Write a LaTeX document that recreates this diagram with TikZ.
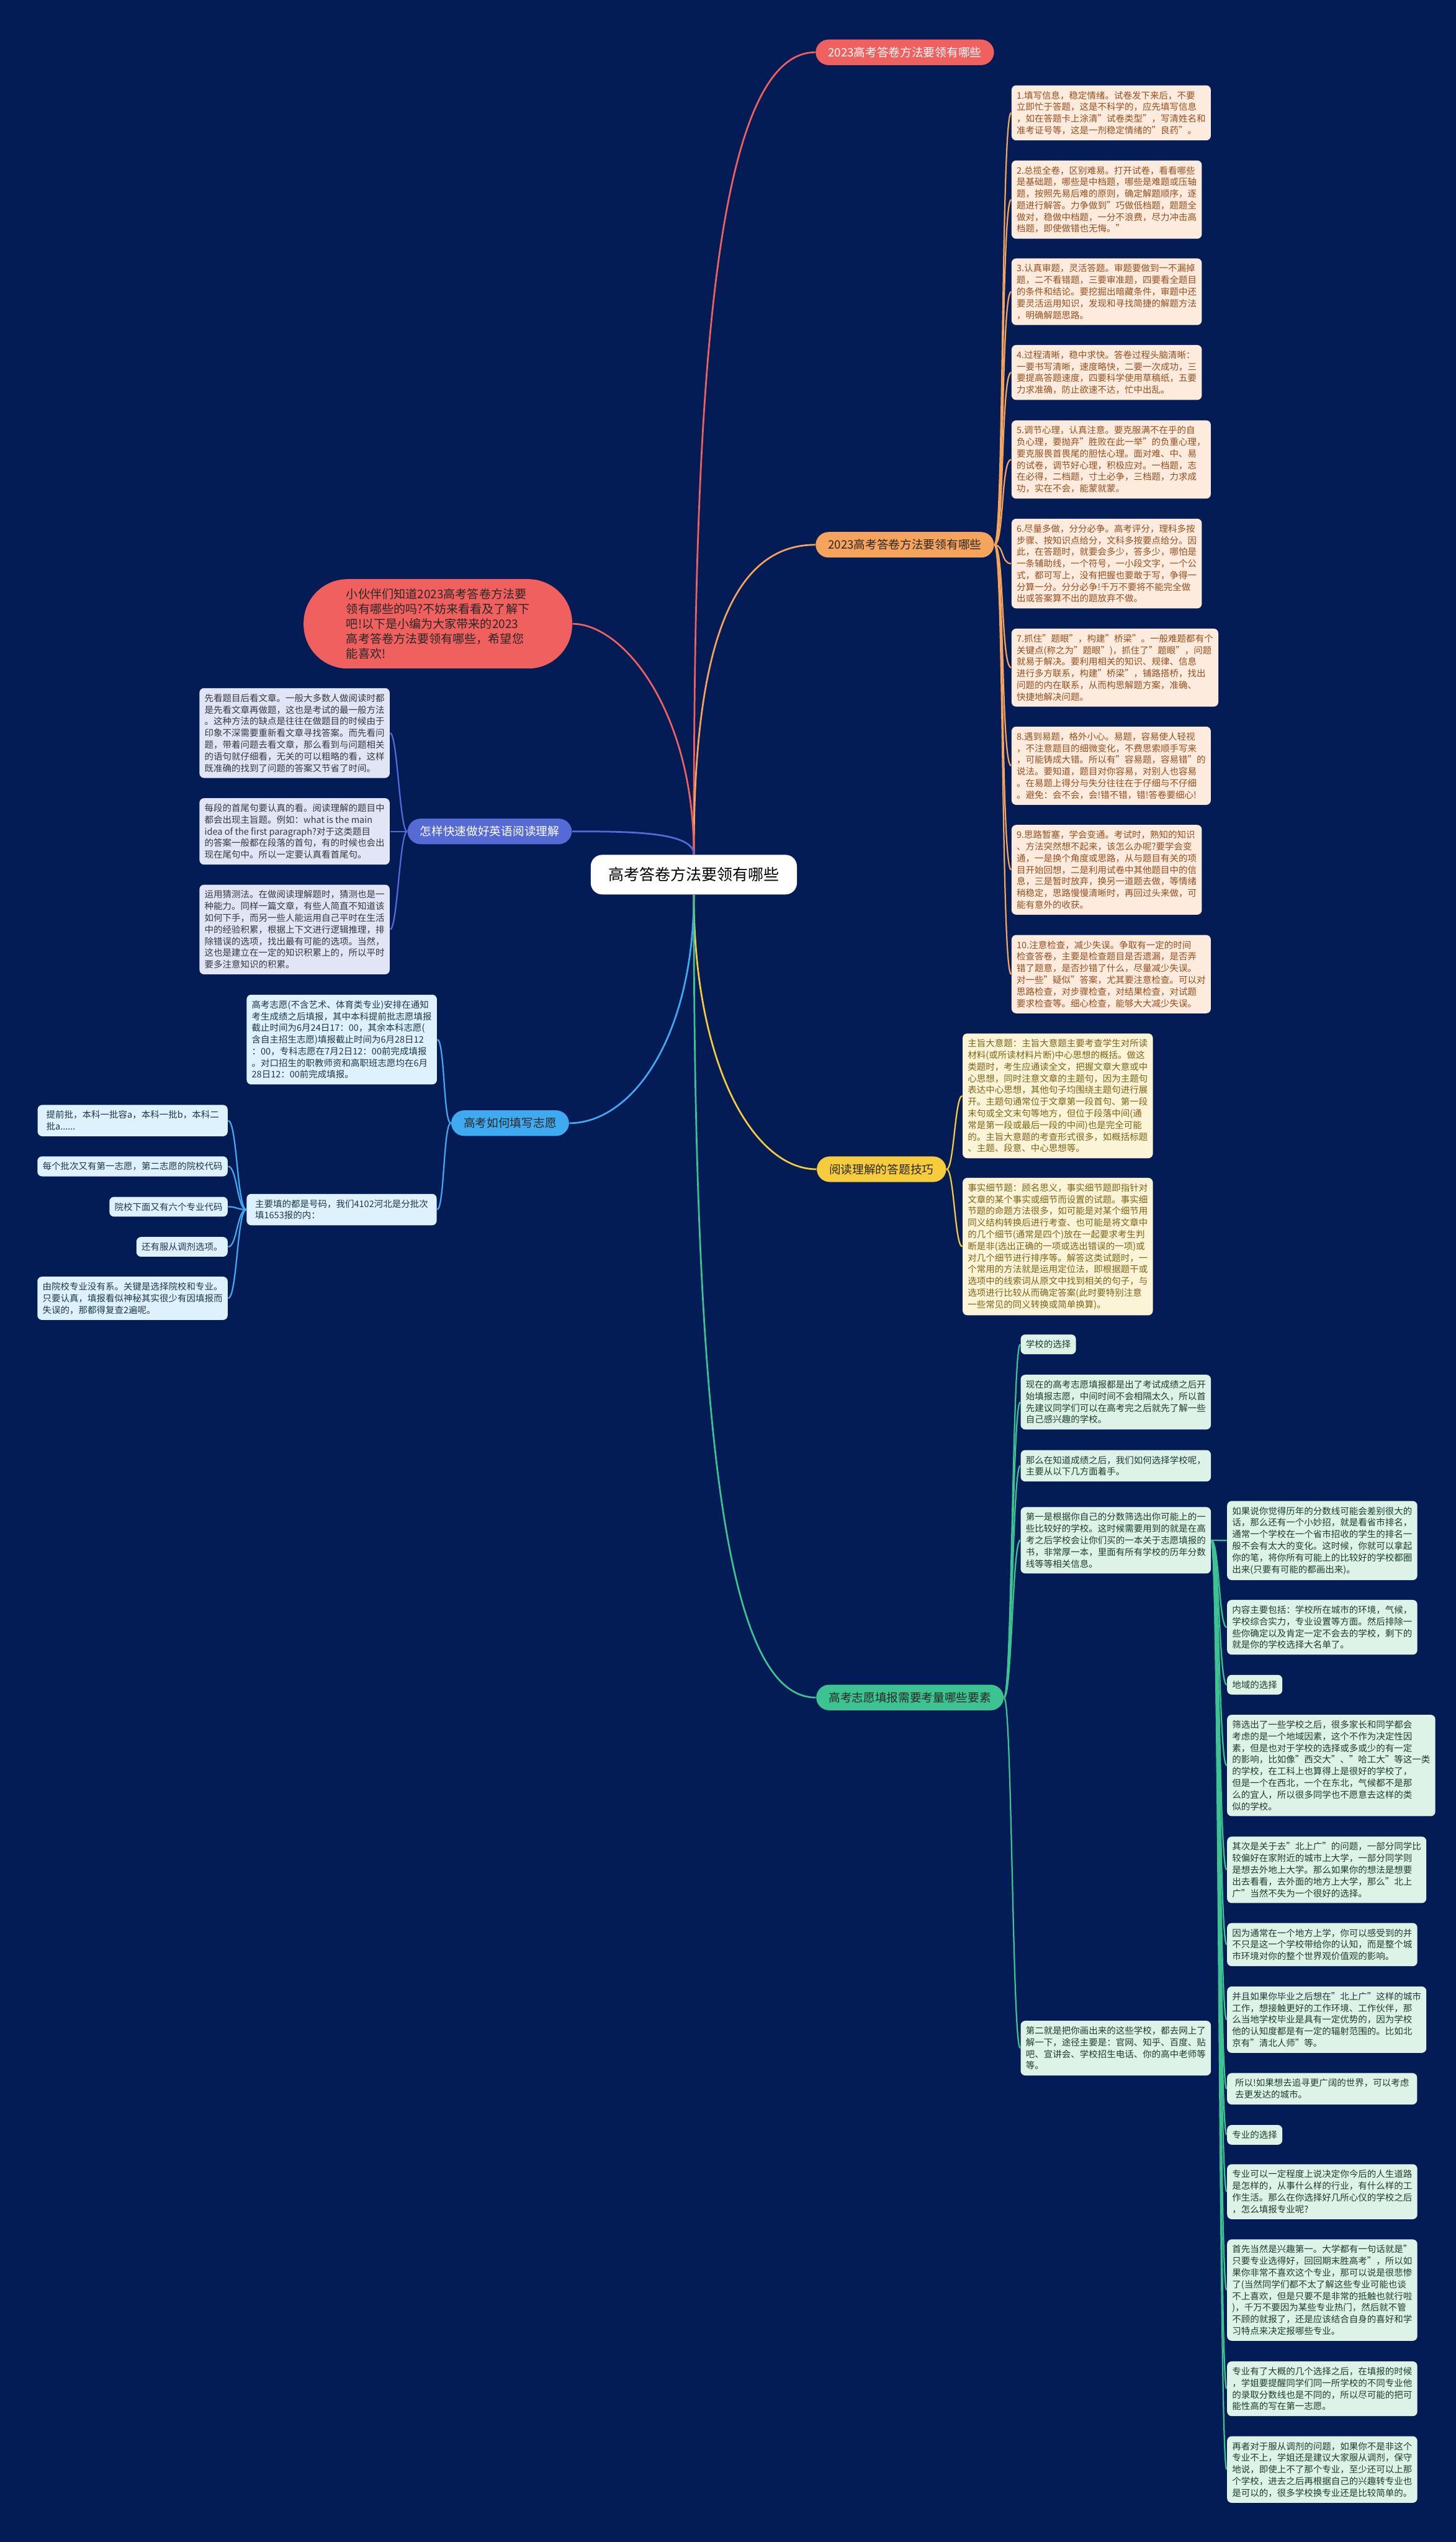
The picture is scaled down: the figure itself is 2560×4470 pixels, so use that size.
\documentclass[tikz,border=0pt]{standalone}
\usepackage{fontspec}
\setmainfont{Noto Sans CJK SC}
\usetikzlibrary{calc}
\definecolor{bg}{RGB}{3,28,86}
\definecolor{cred}{RGB}{240,96,94}
\definecolor{corange}{RGB}{246,163,92}
\definecolor{cblue}{RGB}{86,106,214}
\definecolor{clblue}{RGB}{64,170,240}
\definecolor{cyellow}{RGB}{247,204,60}
\definecolor{cgreen}{RGB}{60,195,145}
\definecolor{forange}{RGB}{253,236,222}
\definecolor{torange}{RGB}{150,78,30}
\definecolor{fblue}{RGB}{226,229,246}
\definecolor{tblue}{RGB}{55,55,62}
\definecolor{flblue}{RGB}{221,242,252}
\definecolor{tlblue}{RGB}{30,55,75}
\definecolor{fyellow}{RGB}{252,244,214}
\definecolor{tyellow}{RGB}{125,100,25}
\definecolor{fgreen}{RGB}{221,243,232}
\definecolor{tgreen}{RGB}{30,60,50}
\definecolor{tdark}{RGB}{40,40,40}
\tikzset{
  leaf/.style={rounded corners=2.3pt, align=left, inner xsep=2.56pt, inner ysep=2.85pt,
    font=\fontsize{4.5pt}{5.83pt}\selectfont},
  wide/.style={minimum width=95pt},
  oleaf/.style={leaf, wide, fill=forange, text=torange, anchor=west},
  bleaf/.style={leaf, wide, fill=fblue, text=tblue, anchor=west},
  lbleaf/.style={leaf, fill=flblue, text=tlblue},
  yleaf/.style={leaf, wide, fill=fyellow, text=tyellow, anchor=west},
  gleaf/.style={leaf, fill=fgreen, text=tgreen, anchor=west},
  branch/.style={rounded corners=6.5pt, inner xsep=6.26pt, inner ysep=3.7pt,
    font=\fontsize{5.8pt}{7pt}\selectfont},
  conn/.style={line width=0.7pt},
  rootconn/.style={line width=0.85pt},
}
\begin{document}
\begin{tikzpicture}[x=0.01cm, y=-0.01cm]
\fill[bg] (0,0) rectangle (2560,4470);
\useasboundingbox (0,0) rectangle (2560,4470);

% root
\node[fill=white, text=black, rounded corners=5.7pt, inner xsep=8.8pt, inner ysep=6.3pt,
  font=\fontsize{7.77pt}{9pt}\selectfont] (root) at (1220,1538) {高考答卷方法要领有哪些};

% intro bubble
\node[fill=cred, text=tdark, rounded corners=22pt, minimum width=134.3pt, minimum height=44.7pt,
  align=left, font=\fontsize{5.92pt}{7.48pt}\selectfont] (intro) at (770,1097)
  {小伙伴们知道2023高考答卷方法要\\领有哪些的吗?不妨来看看及了解下\\吧!以下是小编为大家带来的2023\\高考答卷方法要领有哪些，希望您\\能喜欢!};

% branches
\node[branch, fill=cred, text=white] (b1) at (1591,92) {2023高考答卷方法要领有哪些};
\node[branch, fill=corange, text=tdark] (b2) at (1591,958) {2023高考答卷方法要领有哪些};
\node[branch, fill=cblue, text=white] (b3) at (861,1462) {怎样快速做好英语阅读理解};
\node[branch, fill=clblue, text=tdark] (b4) at (897,1975) {高考如何填写志愿};
\node[branch, fill=cyellow, text=tdark] (b5) at (1550,2056) {阅读理解的答题技巧};
\node[branch, fill=cgreen, text=tdark] (b6) at (1600,2985) {高考志愿填报需要考量哪些要素};

% root connectors
\draw[rootconn, cred] (root.north) .. controls +(0,-700) and +(-194,0) .. (b1.west);
\draw[rootconn, corange] (root.north) .. controls +(0,-300) and +(-170,0) .. (b2.west);
\draw[rootconn, cred] (intro.east) .. controls +(90,0) and +(0,-250) .. (root.north);
\draw[rootconn, cblue] (b3.east) .. controls +(100,0) and +(0,-40) .. (root.north);
\draw[rootconn, clblue] (root.south) .. controls +(0,250) and +(110,0) .. (b4.east);
\draw[rootconn, cyellow] (root.south) .. controls +(0,300) and +(-110,0) .. (b5.west);
\draw[rootconn, cgreen] (root.south) .. controls +(0,1000) and +(-150,0) .. (b6.west);

% orange leaves
\node[oleaf] (o1) at (1778,198.5) {1.填写信息，稳定情绪。试卷发下来后，不要\\立即忙于答题，这是不科学的，应先填写信息\\，如在答题卡上涂清"试卷类型"，写清姓名和\\准考证号等，这是一剂稳定情绪的"良药"。};
\node[oleaf] (o2) at (1778,351) {2.总揽全卷，区别难易。打开试卷，看看哪些\\是基础题，哪些是中档题，哪些是难题或压轴\\题，按照先易后难的原则，确定解题顺序，逐\\题进行解答。力争做到"巧做低档题，题题全\\做对，稳做中档题，一分不浪费，尽力冲击高\\档题，即使做错也无悔。"};
\node[oleaf] (o3) at (1778,513) {3.认真审题，灵活答题。审题要做到一不漏掉\\题，二不看错题，三要审准题，四要看全题目\\的条件和结论。要挖掘出暗藏条件，审题中还\\要灵活运用知识，发现和寻找简捷的解题方法\\，明确解题思路。};
\node[oleaf] (o4) at (1778,655) {4.过程清晰，稳中求快。答卷过程头脑清晰：\\一要书写清晰，速度略快，二要一次成功，三\\要提高答题速度，四要科学使用草稿纸，五要\\力求准确，防止欲速不达，忙中出乱。};
\node[oleaf] (o5) at (1778,808) {5.调节心理，认真注意。要克服满不在乎的自\\负心理，要抛弃"胜败在此一举"的负重心理，\\要克服畏首畏尾的胆怯心理。面对难、中、易\\的试卷，调节好心理，积极应对。一档题，志\\在必得，二档题，寸土必争，三档题，力求成\\功，实在不会，能蒙就蒙。};
\node[oleaf] (o6) at (1778,991) {6.尽量多做，分分必争。高考评分，理科多按\\步骤、按知识点给分，文科多按要点给分。因\\此，在答题时，就要会多少，答多少，哪怕是\\一条辅助线，一个符号，一小段文字，一个公\\式，都可写上，没有把握也要敢于写，争得一\\分算一分。分分必争!千万不要将不能完全做\\出或答案算不出的题放弃不做。};
\node[oleaf] (o7) at (1778,1174) {7.抓住"题眼"，构建"桥梁"。一般难题都有个\\关键点(称之为"题眼")，抓住了"题眼"，问题\\就易于解决。要利用相关的知识、规律、信息\\进行多方联系，构建"桥梁"，铺路搭桥，找出\\问题的内在联系，从而构思解题方案，准确、\\快捷地解决问题。};
\node[oleaf] (o8) at (1778,1346.5) {8.遇到易题，格外小心。易题，容易使人轻视\\，不注意题目的细微变化，不费思索顺手写来\\，可能铸成大错。所以有"容易题，容易错"的\\说法。要知道，题目对你容易，对别人也容易\\。在易题上得分与失分往往在于仔细与不仔细\\。避免：会不会，会!错不错，错!答卷要细心!};
\node[oleaf] (o9) at (1778,1529.5) {9.思路暂塞，学会变通。考试时，熟知的知识\\、方法突然想不起来，该怎么办呢?要学会变\\通，一是换个角度或思路，从与题目有关的项\\目开始回想，二是利用试卷中其他题目中的信\\息，三是暂时放弃，换另一道题去做，等情绪\\稍稳定，思路慢慢清晰时，再回过头来做，可\\能有意外的收获。};
\node[oleaf] (o10) at (1778,1713) {10.注意检查，减少失误。争取有一定的时间\\检查答卷，主要是检查题目是否遗漏，是否弄\\错了题意，是否抄错了什么，尽量减少失误。\\对一些"疑似"答案，尤其要注意检查。可以对\\思路检查，对步骤检查，对结果检查，对试题\\要求检查等。细心检查，能够大大减少失误。};
\foreach \n in {o1,o2,o3,o4,o5,o6,o7,o8,o9,o10}
  \draw[conn, corange] (b2.east) .. controls +(17,0) and +(-18,0) .. (\n.west);

% blue (reading) leaves
\node[bleaf] (l1) at (350,1289) {先看题目后看文章。一般大多数人做阅读时都\\是先看文章再做题，这也是考试的最一般方法\\。这种方法的缺点是往往在做题目的时候由于\\印象不深需要重新看文章寻找答案。而先看问\\题，带着问题去看文章，那么看到与问题相关\\的语句就仔细看，无关的可以粗略的看，这样\\既准确的找到了问题的答案又节省了时间。};
\node[bleaf] (l2) at (350,1462) {每段的首尾句要认真的看。阅读理解的题目中\\都会出现主旨题。例如：what is the main\\idea of the first paragraph?对于这类题目\\的答案一般都在段落的首句，有的时候也会出\\现在尾句中。所以一定要认真看首尾句。};
\node[bleaf] (l3) at (350,1634.5) {运用猜测法。在做阅读理解题时，猜测也是一\\种能力。同样一篇文章，有些人简直不知道该\\如何下手，而另一些人能运用自己平时在生活\\中的经验积累，根据上下文进行逻辑推理，排\\除错误的选项，找出最有可能的选项。当然，\\这也是建立在一定的知识积累上的，所以平时\\要多注意知识的积累。};
\foreach \n in {l1,l2,l3}
  \draw[conn, cblue] (b3.west) .. controls +(-13,0) and +(13,0) .. (\n.east);

% light blue leaves
\node[lbleaf, wide, anchor=west] (v1) at (433,1828) {高考志愿(不含艺术、体育类专业)安排在通知\\考生成绩之后填报，其中本科提前批志愿填报\\截止时间为6月24日17：00，其余本科志愿(\\含自主招生志愿)填报截止时间为6月28日12\\：00，专科志愿在7月2日12：00前完成填报\\。对口招生的职教师资和高职班志愿均在6月\\28日12：00前完成填报。};
\node[lbleaf, wide, anchor=west] (v2) at (433,2127) {主要填的都是号码，我们4102河北是分批次\\填1653报的内：};
\foreach \n in {v1,v2}
  \draw[conn, clblue] (b4.west) .. controls +(-13,0) and +(13,0) .. (\n.east);
\node[lbleaf, wide, anchor=east] (c1) at (401,1970.5) {提前批，本科一批容a，本科一批b，本科二\\批a......};
\node[lbleaf, wide, anchor=east] (c2) at (401,2051) {每个批次又有第一志愿，第二志愿的院校代码};
\node[lbleaf, anchor=east] (c3) at (401,2122) {院校下面又有六个专业代码};
\node[lbleaf, anchor=east] (c4) at (401,2192.5) {还有服从调剂选项。};
\node[lbleaf, wide, anchor=east] (c5) at (401,2283) {由院校专业没有系。关键是选择院校和专业。\\只要认真，填报看似神秘其实很少有因填报而\\失误的，那都得复查2遍呢。};
\foreach \n in {c1,c2,c3,c4,c5}
  \draw[conn, clblue] (v2.west) .. controls +(-16,0) and +(16,0) .. (\n.east);

% yellow leaves
\node[yleaf] (y1) at (1692,1927) {主旨大意题：主旨大意题主要考查学生对所读\\材料(或所读材料片断)中心思想的概括。做这\\类题时，考生应通读全文，把握文章大意或中\\心思想，同时注意文章的主题句，因为主题句\\表达中心思想，其他句子均围绕主题句进行展\\开。主题句通常位于文章第一段首句、第一段\\末句或全文末句等地方，但位于段落中间(通\\常是第一段或最后一段的中间)也是完全可能\\的。主旨大意题的考查形式很多，如概括标题\\、主题、段意、中心思想等。};
\node[yleaf] (y2) at (1692,2192) {事实细节题：顾名思义，事实细节题即指针对\\文章的某个事实或细节而设置的试题。事实细\\节题的命题方法很多，如可能是对某个细节用\\同义结构转换后进行考查、也可能是将文章中\\的几个细节(通常是四个)放在一起要求考生判\\断是非(选出正确的一项或选出错误的一项)或\\对几个细节进行排序等。解答这类试题时，一\\个常用的方法就是运用定位法，即根据题干或\\选项中的线索词从原文中找到相关的句子，与\\选项进行比较从而确定答案(此时要特别注意\\一些常见的同义转换或简单换算)。};
\foreach \n in {y1,y2}
  \draw[conn, cyellow] (b5.east) .. controls +(13,0) and +(-13,0) .. (\n.west);

% green leaves
\node[gleaf] (g1) at (1794,2364) {学校的选择};
\node[gleaf, wide] (g2) at (1794,2465.5) {现在的高考志愿填报都是出了考试成绩之后开\\始填报志愿，中间时间不会相隔太久，所以首\\先建议同学们可以在高考完之后就先了解一些\\自己感兴趣的学校。};
\node[gleaf, wide] (g3) at (1794,2577.5) {那么在知道成绩之后，我们如何选择学校呢，\\主要从以下几方面着手。};
\node[gleaf, wide] (g4) at (1794,2708.5) {第一是根据你自己的分数筛选出你可能上的一\\些比较好的学校。这时候需要用到的就是在高\\考之后学校会让你们买的一本关于志愿填报的\\书，非常厚一本，里面有所有学校的历年分数\\线等等相关信息。};
\node[gleaf, wide] (g5) at (1794,3601.5) {第二就是把你画出来的这些学校，都去网上了\\解一下，途径主要是：官网、知乎、百度、贴\\吧、宣讲会、学校招生电话、你的高中老师等\\等。};
\foreach \n in {g1,g2,g3,g4,g5}
  \draw[conn, cgreen] (b6.east) .. controls +(14,0) and +(-14,0) .. (\n.west);

% far right leaves
\node[gleaf, wide] (f1) at (2157,2709) {如果说你觉得历年的分数线可能会差别很大的\\话，那么还有一个小妙招，就是看省市排名，\\通常一个学校在一个省市招收的学生的排名一\\般不会有太大的变化。这时候，你就可以拿起\\你的笔，将你所有可能上的比较好的学校都圈\\出来(只要有可能的都画出来)。};
\node[gleaf, wide] (f2) at (2157,2861.5) {内容主要包括：学校所在城市的环境，气候，\\学校综合实力，专业设置等方面。然后排除一\\些你确定以及肯定一定不会去的学校，剩下的\\就是你的学校选择大名单了。};
\node[gleaf] (f3) at (2157,2962.5) {地域的选择};
\node[gleaf, wide] (f4) at (2157,3104.5) {筛选出了一些学校之后，很多家长和同学都会\\考虑的是一个地域因素，这个不作为决定性因\\素，但是也对于学校的选择或多或少的有一定\\的影响，比如像"西交大"、"哈工大"等这一类\\的学校，在工科上也算得上是很好的学校了，\\但是一个在西北，一个在东北，气候都不是那\\么的宜人，所以很多同学也不愿意去这样的类\\似的学校。};
\node[gleaf, wide] (f5) at (2157,3288) {其次是关于去"北上广"的问题，一部分同学比\\较偏好在家附近的城市上大学，一部分同学则\\是想去外地上大学。那么如果你的想法是想要\\出去看看，去外面的地方上大学，那么"北上\\广"当然不失为一个很好的选择。};
\node[gleaf, wide] (f6) at (2157,3419.5) {因为通常在一个地方上学，你可以感受到的并\\不只是这一个学校带给你的认知，而是整个城\\市环境对你的整个世界观价值观的影响。};
\node[gleaf, wide] (f7) at (2157,3551.5) {并且如果你毕业之后想在"北上广"这样的城市\\工作，想接触更好的工作环境、工作伙伴，那\\么当地学校毕业是具有一定优势的，因为学校\\他的认知度都是有一定的辐射范围的。比如北\\京有"清北人师"等。};
\node[gleaf, wide] (f8) at (2157,3673) {所以!如果想去追寻更广阔的世界，可以考虑\\去更发达的城市。};
\node[gleaf] (f9) at (2157,3754) {专业的选择};
\node[gleaf, wide] (f10) at (2157,3854) {专业可以一定程度上说决定你今后的人生道路\\是怎样的，从事什么样的行业，有什么样的工\\作生活。那么在你选择好几所心仪的学校之后\\，怎么填报专业呢?};
\node[gleaf, wide] (f11) at (2157,4027) {首先当然是兴趣第一。大学都有一句话就是"\\只要专业选得好，回回期末胜高考"，所以如\\果你非常不喜欢这个专业，那可以说是很悲惨\\了(当然同学们都不太了解这些专业可能也谈\\不上喜欢，但是只要不是非常的抵触也就行啦\\)，千万不要因为某些专业热门，然后就不管\\不顾的就报了，还是应该结合自身的喜好和学\\习特点来决定报哪些专业。};
\node[gleaf, wide] (f12) at (2157,4200.5) {专业有了大概的几个选择之后，在填报的时候\\，学姐要提醒同学们同一所学校的不同专业他\\的录取分数线也是不同的，所以尽可能的把可\\能性高的写在第一志愿。};
\node[gleaf, wide] (f13) at (2157,4342.5) {再者对于服从调剂的问题，如果你不是非这个\\专业不上，学姐还是建议大家服从调剂，保守\\地说，即使上不了那个专业，至少还可以上那\\个学校，进去之后再根据自己的兴趣转专业也\\是可以的，很多学校换专业还是比较简单的。};
\foreach \n in {f1,f2,f3,f4,f5,f6,f7,f8,f9,f10,f11,f12,f13}
  \draw[conn, cgreen] (g4.east) .. controls +(14,0) and +(-14,0) .. (\n.west);
\end{tikzpicture}
\end{document}
